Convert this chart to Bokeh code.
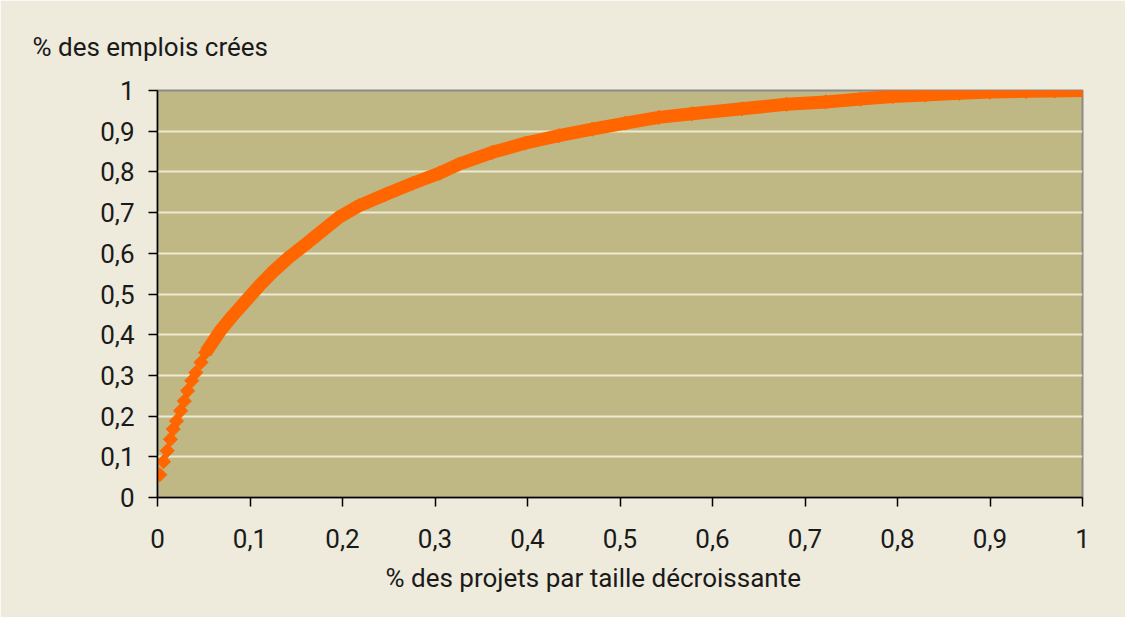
import math
from bokeh.plotting import figure
from bokeh.models import Range1d, CustomJSTickFormatter, FixedTicker, Title
from bokeh.embed import file_html
from bokeh.resources import INLINE

# Share of projects (sorted by decreasing size) vs cumulative share of jobs created
x_projects = [0.0025, 0.0065, 0.0105, 0.014, 0.017, 0.0205, 0.025, 0.029, 0.0325,
              0.037, 0.0415, 0.047, 0.052, 0.0595, 0.068, 0.081, 0.0955, 0.11,
              0.124, 0.142, 0.16, 0.178, 0.196, 0.218, 0.247, 0.276, 0.305,
              0.326, 0.362, 0.398, 0.434, 0.47, 0.506, 0.542, 0.578, 0.632,
              0.68, 0.7225, 0.76, 0.795, 0.83, 0.867, 0.9, 0.939, 0.97, 1.0]
y_jobs = [0.056, 0.088, 0.115, 0.143, 0.168, 0.188, 0.213, 0.237, 0.262,
          0.287, 0.307, 0.332, 0.356, 0.381, 0.41, 0.446, 0.483, 0.52,
          0.553, 0.59, 0.622, 0.655, 0.688, 0.717, 0.745, 0.772, 0.797,
          0.819, 0.848, 0.871, 0.889, 0.905, 0.92, 0.934, 0.943, 0.955,
          0.966, 0.972, 0.979, 0.985, 0.989, 0.993, 0.996, 0.998, 0.999, 1.0]
x_ticks = [0, 0.1, 0.2, 0.3, 0.4, 0.5, 0.6, 0.7, 0.8, 0.9, 1.0]
y_ticks = [0, 0.1, 0.2, 0.3, 0.4, 0.5, 0.6, 0.7, 0.8, 0.9, 1.0]

FONT = "Roboto"
TXT = "#1a1a1a"
ORANGE = "#FF6600"
FS = "26px"

p = figure(width=1125, height=617, output_backend="svg", toolbar_location=None,
           x_range=Range1d(0, 1), y_range=Range1d(0, 1),
           background_fill_color="#BFB885", border_fill_color="#EEEADC",
           min_border_left=157, min_border_right=43, min_border_top=90,
           min_border_bottom=120)
p.outline_line_color = "#8A8A8A"
p.outline_line_width = 2

fmt = CustomJSTickFormatter(code="""
    var s = tick.toFixed(1).replace('.', ',');
    if (s.endsWith(',0')) { s = s.slice(0, -2); }
    return s;
""")

for ax in (p.xaxis[0], p.yaxis[0]):
    ax.formatter = fmt
    ax.axis_line_color = "black"
    ax.axis_line_width = 1.5
    ax.major_tick_line_color = "black"
    ax.major_tick_line_width = 1.5
    ax.major_tick_in = 0
    ax.major_tick_out = 9
    ax.minor_tick_line_color = None
    ax.major_label_text_font = FONT
    ax.major_label_text_font_size = FS
    ax.major_label_text_color = TXT

p.xaxis[0].ticker = FixedTicker(ticks=x_ticks)
p.yaxis[0].ticker = FixedTicker(ticks=y_ticks)
p.xaxis[0].major_label_standoff = 22
p.yaxis[0].major_label_standoff = 14

p.xgrid.visible = False
p.ygrid.grid_line_color = "#EDE9D2"
p.ygrid.grid_line_width = 2
p.ygrid.ticker = FixedTicker(ticks=y_ticks)

# continuous band where the markers overlap, discrete diamonds at the start
start = 12
p.line(x_projects[start:], y_jobs[start:], line_color=ORANGE, line_width=13,
       line_join="round")
p.scatter(x_projects, y_jobs, marker="square", size=10, angle=math.pi / 4,
          fill_color=ORANGE, line_color=ORANGE)

p.add_layout(Title(text="% des emplois crées", align="left", offset=-125,
                   standoff=58, text_font=FONT, text_font_size=FS,
                   text_font_style="normal", text_color=TXT), "above")
p.add_layout(Title(text="% des projets par taille décroissante", align="left",
                   offset=228, standoff=21, text_font=FONT, text_font_size=FS,
                   text_font_style="normal", text_color=TXT), "below")

open("out.html", "w").write(file_html(p, INLINE))
